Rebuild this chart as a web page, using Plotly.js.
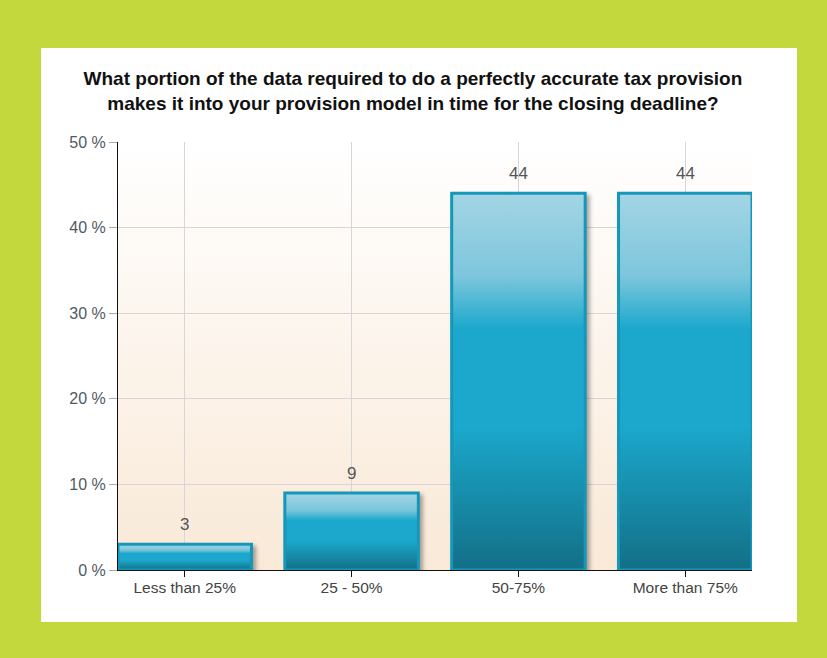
<!DOCTYPE html>
<html>
<head>
<meta charset="utf-8">
<script src="https://cdn.plot.ly/plotly-3.0.1.min.js"></script>
<style>
html,body{margin:0;padding:0;width:827px;height:658px;background:#c2d83d;overflow:hidden;}
#chart{position:absolute;left:41px;top:48px;width:756px;height:574px;background:#fff;}
</style>
</head>
<body>
<div id="chart"></div>
<script>
var categories = ["Less than 25%", "25 - 50%", "50-75%", "More than 75%"];
var values = [3, 9, 44, 44];
var yTickVals = [0, 10, 20, 30, 40, 50];

var FONT = 'Liberation Sans, Arial, sans-serif';

var trace = {
  type: 'bar',
  x: categories,
  y: values,
  marker: {color: '#1ba8cc', line: {color: '#1597b9', width: 3}},
  hoverinfo: 'none'
};

var annotations = categories.map(function(c, i){
  return {x: c, y: values[i], xref: 'x', yref: 'y', text: String(values[i]),
    showarrow: false, yanchor: 'bottom', yshift: 8,
    font: {family: FONT, size: 17, color: '#555'}};
});

var layout = {
  width: 756, height: 574,
  margin: {l: 77, r: 45, t: 94, b: 52},
  paper_bgcolor: '#ffffff',
  plot_bgcolor: '#fcf4ec',
  bargap: 0.2,
  showlegend: false,
  title: {
    text: '<b>What portion of the data required to do a perfectly accurate tax provision<br>makes it into your provision model in time for the closing deadline?</b>',
    font: {family: FONT, size: 19, color: '#111'},
    x: 0.492, xanchor: 'center', y: 0.935, yanchor: 'top'
  },
  xaxis: {
    type: 'category',
    range: [-0.4, 3.4],
    showgrid: true, gridcolor: '#d6d6d6', gridwidth: 1,
    showline: true, linecolor: '#111', linewidth: 1,
    ticks: 'outside', ticklen: 6, tickcolor: '#111',
    ticklabelstandoff: -3,
    tickfont: {family: FONT, size: 15.5, color: '#444'},
    fixedrange: true
  },
  yaxis: {
    range: [0, 50],
    tickvals: yTickVals,
    ticktext: yTickVals.map(function(v){return v + ' %';}),
    showgrid: true, gridcolor: '#d6d6d6', gridwidth: 1,
    showline: true, linecolor: '#111', linewidth: 1,
    ticks: 'outside', ticklen: 8, tickcolor: '#aaa',
    zeroline: false,
    tickfont: {family: FONT, size: 16, color: '#505a64'},
    fixedrange: true
  },
  annotations: annotations
};

Plotly.newPlot('chart', [trace], layout, {displayModeBar: false, staticPlot: true}).then(function(gd){
  var svgNS = 'http://www.w3.org/2000/svg';
  var svg = gd.querySelector('.main-svg');
  var defs = svg.querySelector('defs');
  if(!defs){ defs = document.createElementNS(svgNS, 'defs'); svg.insertBefore(defs, svg.firstChild); }
  function grad(id, stops){
    var g = document.createElementNS(svgNS, 'linearGradient');
    g.setAttribute('id', id);
    g.setAttribute('x1', '0'); g.setAttribute('y1', '0');
    g.setAttribute('x2', '0'); g.setAttribute('y2', '1');
    stops.forEach(function(s){
      var st = document.createElementNS(svgNS, 'stop');
      st.setAttribute('offset', s[0]);
      st.setAttribute('stop-color', s[1]);
      g.appendChild(st);
    });
    defs.appendChild(g);
  }
  grad('barGrad', [[0, '#a4d5e4'], [0.22, '#7cc6dc'], [0.36, '#1ba8cc'], [0.62, '#1ba8cc'], [1, '#136f87']]);
  grad('bgGrad', [[0, '#ffffff'], [1, '#f9e9d7']]);
  var bg = gd.querySelector('.bglayer .bg');
  if(bg){ bg.style.fill = 'url(#bgGrad)'; }
  gd.querySelectorAll('.trace.bars .point path').forEach(function(p){
    p.style.fill = 'url(#barGrad)';
    p.style.filter = 'drop-shadow(3px 3px 2px rgba(0,0,0,0.35))';
  });
});
</script>
</body>
</html>
